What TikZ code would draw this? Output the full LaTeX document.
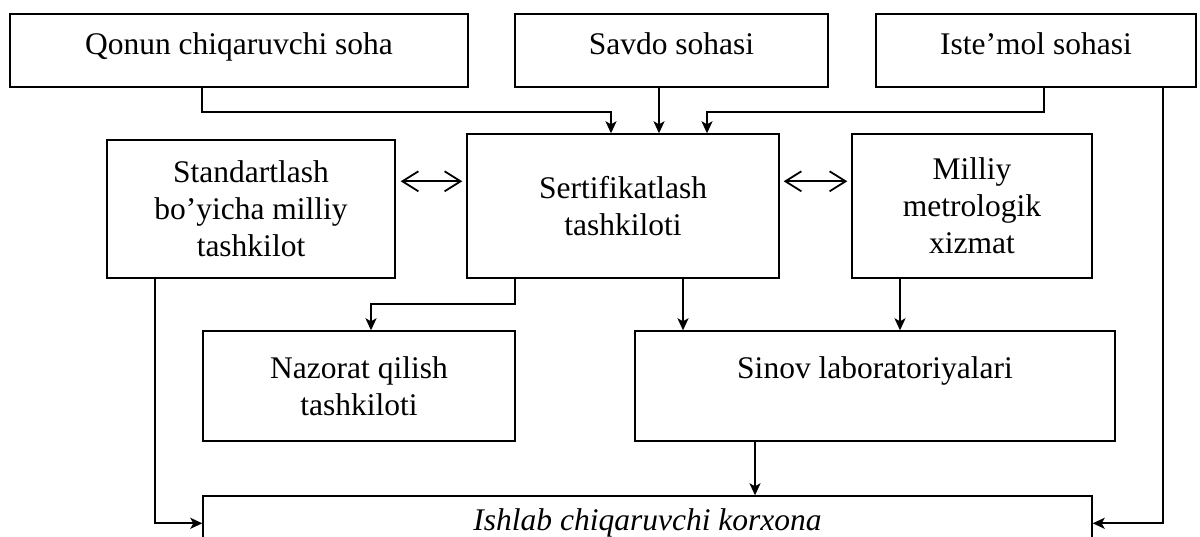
\documentclass[tikz,border=0pt]{standalone}
\usepackage{fontspec}
\setmainfont{Liberation Serif}
\usepackage{tikz}
\usetikzlibrary{arrows.meta}

\tikzset{
	box/.style={draw, line width=1.4pt, inner sep=0pt, align=center,
		font=\fontsize{31.5}{37}\selectfont},
	field/.style={box, minimum height=73, text height=22pt, text depth=13pt},
	arr/.style={line width=1.8pt, -{Stealth[length=12pt,width=11pt,inset=3pt]}},
	link/.style={line width=1.8pt,
		{Straight Barb[length=16pt,width=20pt]}-{Straight Barb[length=16pt,width=20pt]}}
}

\begin{document}
\begin{tikzpicture}[x=1pt,y=-1pt]
	\useasboundingbox (0,0) rectangle (1200,537);

	%% Top row: the three fields
	\node[field, minimum width=458] (qonun) at (239,50.5) {Qonun chiqaruvchi soha};
	\node[field, minimum width=313] (savdo) at (671.5,50.5) {Savdo sohasi};
	\node[field, minimum width=320] (istemol) at (1036,50.5) {Iste’mol sohasi};

	%% Middle row
	\node[box, minimum width=288, minimum height=138] (standart) at (251,209) {Standartlash\\ bo’yicha milliy\\ tashkilot};
	\node[box, minimum width=312, minimum height=144] (sert) at (623,206) {Sertifikatlash\\ tashkiloti};
	\node[box, minimum width=240, minimum height=144] (milliy) at (972,206) {Milliy\\ metrologik\\ xizmat};

	% Lower rows
	\node[box, minimum width=312, minimum height=110] (nazorat) at (359,386) {Nazorat qilish\\ tashkiloti};
	\node[box, minimum width=480, minimum height=110] (sinov) at (875,386) {Sinov laboratoriyalari\\ \mbox{}};
	\node[box, minimum width=889, minimum height=84] (ishlab) at (647.5,538) {\itshape Ishlab chiqaruvchi korxona\\ \mbox{}};

	%% Fields into the certification body
	\draw[arr] (qonun.south -| ishlab.west) -- ++(0,24) -| ([xshift=-12pt]sert.north);
	\draw[arr] ([xshift=36pt]sert.north |- savdo.south) -- ([xshift=36pt]sert.north);
	\draw[arr] ([xshift=8pt]istemol.south) -- ++(0,24) -| ([xshift=84pt]sert.north);
	\draw[arr] ([xshift=127pt]istemol.south) |- ([yshift=-28pt]ishlab.north east);

	%% Two-way links
	\draw[link] ([xshift=5pt,yshift=-48pt]standart.east |- sert.north) -- ([xshift=-4pt,yshift=-48pt]sert.north west);
	\draw[link] ([xshift=4pt,yshift=-48pt]sert.north east) -- ([xshift=-4pt,yshift=-48pt]milliy.north west);

	% Downwards
	\draw[arr] ([xshift=49pt]sert.south west) -- ++(0,25) -| ([xshift=12pt]nazorat.north);
	\draw[arr] ([xshift=60pt]sert.south) -- ([xshift=60pt]sert.south |- sinov.north);
	\draw[arr] ([xshift=-72pt]milliy.south) -- ([xshift=-72pt]milliy.south |- sinov.north);
	\draw[arr] ([xshift=-120pt]sinov.south) -- ([xshift=-120pt]sinov.south |- ishlab.north);
	\draw[arr] ([xshift=-96pt]standart.south) |- ([yshift=-28pt]ishlab.north west);
\end{tikzpicture}
\end{document}
